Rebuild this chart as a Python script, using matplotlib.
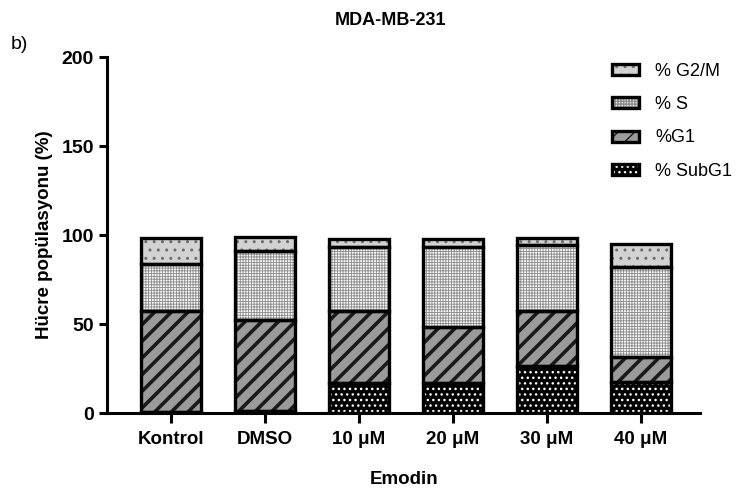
import numpy as np
import matplotlib
matplotlib.use("Agg")
import matplotlib.pyplot as plt
from matplotlib.patches import Patch
from matplotlib.legend_handler import HandlerTuple

plt.rcParams['font.family'] = ['Liberation Sans', 'DejaVu Sans']

groups = ["Kontrol", "DMSO", "10 μM", "20 μM", "30 μM", "40 μM"]
subg1 = [0.5, 1.5, 17.0, 17.0, 26.4, 17.6]
g1 = [57.0, 50.7, 40.5, 31.5, 31.1, 14.0]
s_phase = [26.2, 39.0, 35.8, 44.9, 36.9, 50.6]
g2m = [14.9, 7.5, 4.4, 4.3, 4.1, 13.1]

x = np.arange(len(groups))
width = 0.64

fig = plt.figure(figsize=(7.49, 4.92), dpi=100)
ax = fig.add_axes([0.143, 0.16, 0.792, 0.724])

# segment styles: (values, face, hatch, hatch colour, hatch lw)
styles = [
    (subg1, "#000000", "...", "#ffffff", 1.0),
    (g1, "#9b9b9b", "//", "#1a1a1a", 2.6),
    (s_phase, "#f6f6f6", "++++++", "#8c8c8c", 0.6),
    (g2m, "#d2d2d2", "..", "#6e6e6e", 1.0),
]

bottom = np.zeros(len(groups))
for vals, face, hatch, hcol, hlw in styles:
    vals = np.array(vals)
    with plt.rc_context({'hatch.linewidth': hlw}):
        ax.bar(x, vals, width, bottom=bottom, color=face, hatch=hatch,
               edgecolor=hcol, linewidth=0, zorder=2)
    ax.bar(x, vals, width, bottom=bottom, fill=False, edgecolor="black",
           linewidth=2.4, zorder=3)
    bottom += vals

ax.set_xlim(-0.68, 5.63)
ax.set_ylim(0, 200)
ax.set_yticks([0, 50, 100, 150, 200])
ax.set_xticks(x)
ax.set_xticklabels(groups)
for lab in ax.get_xticklabels():
    lab.set_fontweight("bold")
    lab.set_fontsize(13.5)
for lab in ax.get_yticklabels():
    lab.set_fontweight("bold")
    lab.set_fontsize(14)

ax.spines["top"].set_visible(False)
ax.spines["right"].set_visible(False)
ax.spines["left"].set_linewidth(2.2)
ax.spines["bottom"].set_linewidth(2.2)
ax.tick_params(axis="both", width=2.2, length=6)
ax.tick_params(axis="x", length=7, pad=6)

ax.set_ylabel("Hücre popülasyonu (%)", fontsize=13.5, fontweight="bold", labelpad=6)
ax.set_xlabel("Emodin", fontsize=13.5, fontweight="bold", labelpad=16)
fig.text(0.521, 0.958, "MDA-MB-231", ha="center", va="center",
         fontsize=13, fontweight="bold")
fig.text(0.014, 0.91, "b)", ha="left", va="center", fontsize=14)

legend_items = [
    ("% G2/M", styles[3]),
    ("% S", styles[2]),
    ("%G1", styles[1]),
    ("% SubG1", styles[0]),
]
handles = []
labels = []
for label, (vals, face, hatch, hcol, hlw) in legend_items:
    with plt.rc_context({'hatch.linewidth': hlw}):
        fillp = Patch(facecolor=face, hatch=hatch, edgecolor=hcol, linewidth=0)
    edgep = Patch(fill=False, edgecolor="black", linewidth=2.4)
    handles.append((fillp, edgep))
    labels.append(label)
ax.legend(handles, labels, loc="upper left", bbox_to_anchor=(0.795, 0.905),
          bbox_transform=fig.transFigure, frameon=False, fontsize=13,
          handlelength=1.5, handleheight=0.55, labelspacing=0.9,
          handletextpad=0.9, handler_map={tuple: HandlerTuple(ndivide=1)})

fig.savefig("out.png", dpi=100)
